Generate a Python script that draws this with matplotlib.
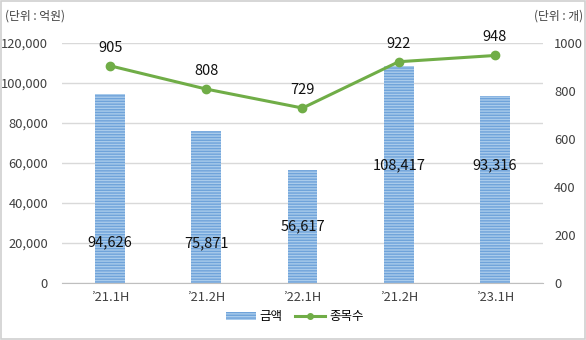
import matplotlib.pyplot as plt
from matplotlib.patches import Rectangle
from matplotlib.lines import Line2D
from matplotlib.patches import Patch

plt.rcParams['font.family'] = ['Noto Sans CJK KR', 'DejaVu Sans']

# data
periods = ["\u201921.1H", "\u201921.2H", "\u201922.1H", "\u201921.2H", "\u201923.1H"]
amount = [94626, 75871, 56617, 108417, 93316]
count = [905, 808, 729, 922, 948]
# where the amount labels sit (in axis units, as in the original)
amount_label_y = [20500, 20000, 28500, 59000, 59000]

fig = plt.figure(figsize=(5.86, 3.40), dpi=100)
fig.patches.append(Rectangle((0.002, 0.003), 0.996, 0.994, transform=fig.transFigure,
                             fill=False, edgecolor='#D0D0D0', linewidth=1.2))

ax = fig.add_axes([0.1058, 0.1676, 0.8208, 0.7059])
ax2 = ax.twinx()

x = list(range(len(periods)))
bars = ax.bar(x, amount, width=0.31, color='#A9CBEB', edgecolor='#6FA3DA',
              linewidth=0, hatch='------', zorder=2)

ax.set_ylim(0, 120000)
ax.set_xlim(-0.5, len(periods) - 0.5)
ax.set_yticks(range(0, 120001, 20000))
ax.set_yticklabels([f"{v:,}" for v in range(0, 120001, 20000)])
ax.set_xticks(x)
ax.set_xticklabels(periods)
ax.grid(axis='y', color='#D9D9D9', linewidth=1, zorder=0)
ax.set_axisbelow(True)
for s in ['top', 'right', 'left']:
    ax.spines[s].set_visible(False)
ax.spines['bottom'].set_color('#BFBFBF')
ax.tick_params(length=0, labelsize=9.3, colors='#404040', pad=6)
ax.tick_params(axis='y', pad=10)

for xi, v, ly in zip(x, amount, amount_label_y):
    ax.text(xi, ly, f"{v:,}", ha='center', va='center', fontsize=10.5, color='#111111', zorder=5)

ax2.plot(x, count, color='#70AD47', linewidth=2.2, marker='o', markersize=6, zorder=4)
ax2.set_ylim(0, 1000)
ax2.set_yticks(range(0, 1001, 200))
for s in ['top', 'right', 'left', 'bottom']:
    ax2.spines[s].set_visible(False)
ax2.tick_params(length=0, labelsize=9.3, colors='#404040', pad=8)

for xi, c in zip(x, count):
    ax2.annotate(f"{c}", (xi, c), xytext=(0, 13), textcoords='offset points',
                 ha='center', va='center', fontsize=10.5, color='#111111')

fig.text(0.009, 0.953, "(단위 : 억원)", fontsize=8.5, color='#404040', va='center')
fig.text(0.995, 0.953, "(단위 : 개)", fontsize=8.5, color='#404040', va='center', ha='right')

handles = [Patch(facecolor='#A9CBEB', edgecolor='#6FA3DA', hatch='------', linewidth=0),
           Line2D([], [], color='#70AD47', linewidth=2.2, marker='o', markersize=4)]
fig.legend(handles, ['금액', '종목수'], loc='center', bbox_to_anchor=(0.503, 0.068),
           ncol=2, frameon=False, fontsize=9, handlelength=2.4, columnspacing=1.0,
           handletextpad=0.3)

fig.savefig('out.png', dpi=100)
